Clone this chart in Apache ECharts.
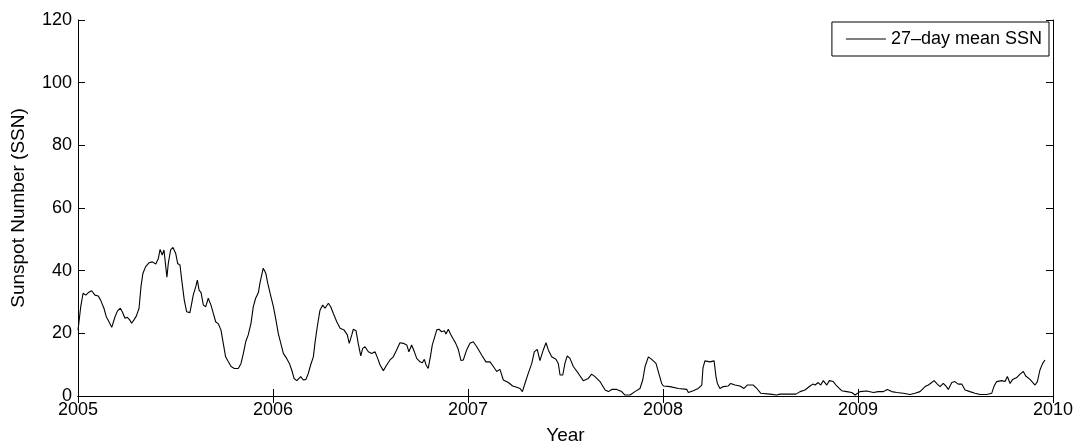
<!DOCTYPE html>
<html>
<head>
<meta charset="utf-8">
<script src="https://cdn.jsdelivr.net/npm/echarts@6/dist/echarts.min.js"></script>
<style>
html,body{margin:0;padding:0;background:#fff;}
#chart{width:1078px;height:447px;}
</style>
</head>
<body>
<div id="chart"></div>
<script>
// Decimal year of each sample
const years = [
2005.000,2005.014,2005.026,2005.040,2005.053,2005.070,2005.087,2005.104,2005.116,2005.133,
2005.145,2005.159,2005.173,2005.181,2005.190,2005.202,2005.217,2005.227,2005.241,2005.253,
2005.265,2005.275,2005.287,2005.299,2005.313,2005.323,2005.333,2005.347,2005.364,2005.381,
2005.399,2005.412,2005.421,2005.432,2005.441,2005.450,2005.456,2005.463,2005.475,2005.487,
2005.501,2005.511,2005.523,2005.532,2005.545,2005.557,2005.574,2005.591,2005.604,2005.612,
2005.621,2005.631,2005.643,2005.655,2005.668,2005.682,2005.694,2005.706,2005.720,2005.733,
2005.745,2005.757,2005.771,2005.785,2005.802,2005.822,2005.836,2005.848,2005.860,2005.873,
2005.887,2005.899,2005.911,2005.925,2005.933,2005.942,2005.950,2005.963,2005.973,2005.985,
2006.002,2006.015,2006.027,2006.040,2006.053,2006.070,2006.084,2006.096,2006.108,2006.122,
2006.142,2006.155,2006.169,2006.181,2006.193,2006.207,2006.215,2006.227,2006.241,2006.255,
2006.267,2006.284,2006.296,2006.309,2006.327,2006.344,2006.364,2006.381,2006.391,2006.404,
2006.412,2006.426,2006.437,2006.450,2006.460,2006.472,2006.489,2006.506,2006.523,2006.537,
2006.549,2006.566,2006.583,2006.600,2006.617,2006.634,2006.651,2006.668,2006.686,2006.697,
2006.711,2006.725,2006.737,2006.754,2006.766,2006.776,2006.785,2006.796,2006.807,2006.817,
2006.827,2006.840,2006.851,2006.865,2006.879,2006.887,2006.899,2006.913,2006.925,2006.937,
2006.950,2006.964,2006.976,2006.993,2007.010,2007.027,2007.045,2007.070,2007.092,2007.113,
2007.130,2007.147,2007.164,2007.181,2007.207,2007.229,2007.250,2007.267,2007.279,2007.292,
2007.309,2007.327,2007.340,2007.355,2007.369,2007.386,2007.400,2007.412,2007.429,2007.451,
2007.463,2007.472,2007.486,2007.497,2007.509,2007.523,2007.540,2007.566,2007.591,2007.617,
2007.634,2007.651,2007.677,2007.703,2007.720,2007.737,2007.763,2007.788,2007.805,2007.831,
2007.856,2007.882,2007.896,2007.908,2007.925,2007.942,2007.964,2007.976,2007.993,2008.002,
2008.036,2008.079,2008.122,2008.130,2008.155,2008.181,2008.199,2008.205,2008.215,2008.241,
2008.262,2008.272,2008.279,2008.292,2008.309,2008.335,2008.347,2008.369,2008.395,2008.415,
2008.432,2008.463,2008.481,2008.501,2008.549,2008.583,2008.600,2008.682,2008.703,2008.728,
2008.754,2008.768,2008.780,2008.796,2008.809,2008.822,2008.840,2008.853,2008.873,2008.891,
2008.916,2008.942,2008.968,2008.985,2009.010,2009.045,2009.079,2009.104,2009.130,2009.150,
2009.173,2009.199,2009.232,2009.267,2009.292,2009.318,2009.344,2009.361,2009.378,2009.390,
2009.407,2009.421,2009.437,2009.451,2009.463,2009.481,2009.497,2009.514,2009.532,2009.549,
2009.574,2009.600,2009.626,2009.660,2009.686,2009.697,2009.711,2009.737,2009.754,2009.766,
2009.780,2009.793,2009.814,2009.831,2009.848,2009.860,2009.882,2009.908,2009.920,2009.933,
2009.947,2009.959
];
// 27-day mean sunspot number
const ssn = [
21,28.5,32.8,32.2,33,33.6,32.2,31.9,30.6,28,
25.3,23.7,21.9,22.1,25.3,27.1,28,26.9,24.8,25.1,
24.3,23.2,24.3,25.5,28,34.9,39.2,41.3,42.5,42.8,
42.1,43.9,46.8,45,46.6,41.3,37.9,42.3,46.6,47.4,
45.5,42.3,41.8,37,30.6,26.9,26.6,32.2,34.9,37,
33.8,33,29,28.5,31.2,29,26.4,23.7,23,21.1,
16.8,12.5,10.9,9.4,8.8,8.8,10.4,13.6,17.3,19.5,
23.2,28.5,31.2,33,36,38.6,40.8,39.2,36,32.8,
28.5,24.3,20,16.8,13.6,12,10.4,8.3,5.6,4.9,
6.2,5.1,5.3,7.2,9.9,12.5,16.8,22.1,27.4,29,
28,29.6,28.5,26.4,23.7,21.6,21.1,19.5,16.8,19.5,
21.3,20.8,16.8,12.8,15.2,15.7,14.1,13.6,14.1,12,
9.9,8.1,9.9,11.5,12.5,14.7,17,16.8,16.3,14.1,
16.3,14.1,12,10.9,10.6,11.7,9.9,8.8,12.5,16.3,
18.4,21.1,21.3,20.5,20.8,19.8,21.3,19.5,18.1,16.8,
14.9,11.3,11.5,14.7,16.8,17.3,15.7,13.1,10.9,10.9,
9.4,7.8,8.5,5.1,4.3,3.2,2.8,2.4,1.4,4,
7.2,10.4,14.1,14.9,11.3,14.7,17,14.7,12.5,11.7,
10.4,6.7,6.7,10.4,12.8,12,9.4,7.2,4.9,5.6,
7,6.2,4.6,1.9,1.4,2.1,2.1,1.4,0.3,0.3,
1.4,2.4,5.1,9.4,12.5,11.7,10.4,7.8,4,3.2,
3,2.4,2.1,1.1,1.7,2.4,3.5,9,11.2,10.9,
11.2,6,4,2.4,3,3.2,4,3.5,3.2,2.4,
3.5,3.5,2.4,0.9,0.6,0.3,0.6,0.6,1.4,1.9,
3.2,3.8,3.5,4.3,3.5,4.9,3.5,4.9,4.6,3.2,
1.7,1.4,1.1,0.3,1.4,1.6,1.1,1.4,1.4,2.1,
1.4,1.1,0.9,0.5,0.9,1.4,3,3.5,4.3,4.9,
3.8,3,4,3.2,2.1,4.3,4.6,3.8,3.8,1.9,
1.4,0.9,0.5,0.5,0.9,3,4.6,4.9,4.6,6.2,
4,5.3,5.9,7,7.8,6.4,5.3,3.5,4.6,8.3,
10.4,11.5
];
const yearTicks = [2005, 2006, 2007, 2008, 2009, 2010];
const seriesName = '27\u2013day mean SSN';

const points = years.map((y, i) => [y, ssn[i]]);
const FONT = '"Liberation Sans", Arial, Helvetica, sans-serif';

const chart = echarts.init(document.getElementById('chart'), null, {renderer: 'canvas'});
const axisLineStyle = {show: true, lineStyle: {color: '#000', width: 1}};
const tickStyle = {show: true, inside: true, length: 7, lineStyle: {color: '#000', width: 1}};
chart.setOption({
  animation: false,
  backgroundColor: '#fff',
  grid: {left: 78, right: 25, top: 20, bottom: 51, containLabel: false, outerBoundsMode: 'none'},
  legend: {
    show: true,
    right: 29, top: 22,
    orient: 'horizontal',
    borderColor: '#000', borderWidth: 1,
    backgroundColor: '#fff',
    padding: [8, 7, 8, 14],
    itemWidth: 40, itemHeight: 1.2, itemGap: 10,
    icon: 'rect',
    textStyle: {fontFamily: FONT, fontSize: 18, color: '#000'},
    data: [seriesName]
  },
  xAxis: [{
    type: 'value', min: 2005, max: 2010, interval: 1,
    name: 'Year', nameLocation: 'middle', nameGap: 30,
    nameTextStyle: {fontFamily: FONT, fontSize: 19, color: '#000'},
    axisLine: axisLineStyle, axisTick: tickStyle,
    axisLabel: {fontFamily: FONT, fontSize: 18, color: '#000', margin: 5,
      formatter: v => String(Math.round(v))},
    splitLine: {show: false}
  }, {
    type: 'value', min: 2005, max: 2010, interval: 1, position: 'top',
    axisLine: axisLineStyle, axisTick: tickStyle,
    axisLabel: {show: false}, splitLine: {show: false}
  }],
  yAxis: [{
    type: 'value', min: 0, max: 120, interval: 20,
    name: 'Sunspot Number (SSN)', nameLocation: 'middle', nameGap: 50,
    nameTextStyle: {fontFamily: FONT, fontSize: 19, color: '#000'},
    axisLine: axisLineStyle, axisTick: tickStyle,
    axisLabel: {fontFamily: FONT, fontSize: 18, color: '#000', margin: 6},
    splitLine: {show: false}
  }, {
    type: 'value', min: 0, max: 120, interval: 20, position: 'right',
    axisLine: axisLineStyle, axisTick: tickStyle,
    axisLabel: {show: false}, splitLine: {show: false}
  }],
  series: [{
    name: seriesName,
    type: 'line',
    data: points,
    symbol: 'none',
    showSymbol: false,
    smooth: false,
    lineStyle: {color: '#000', width: 1.1},
    itemStyle: {color: '#000'}
  }]
});
</script>
</body>
</html>
